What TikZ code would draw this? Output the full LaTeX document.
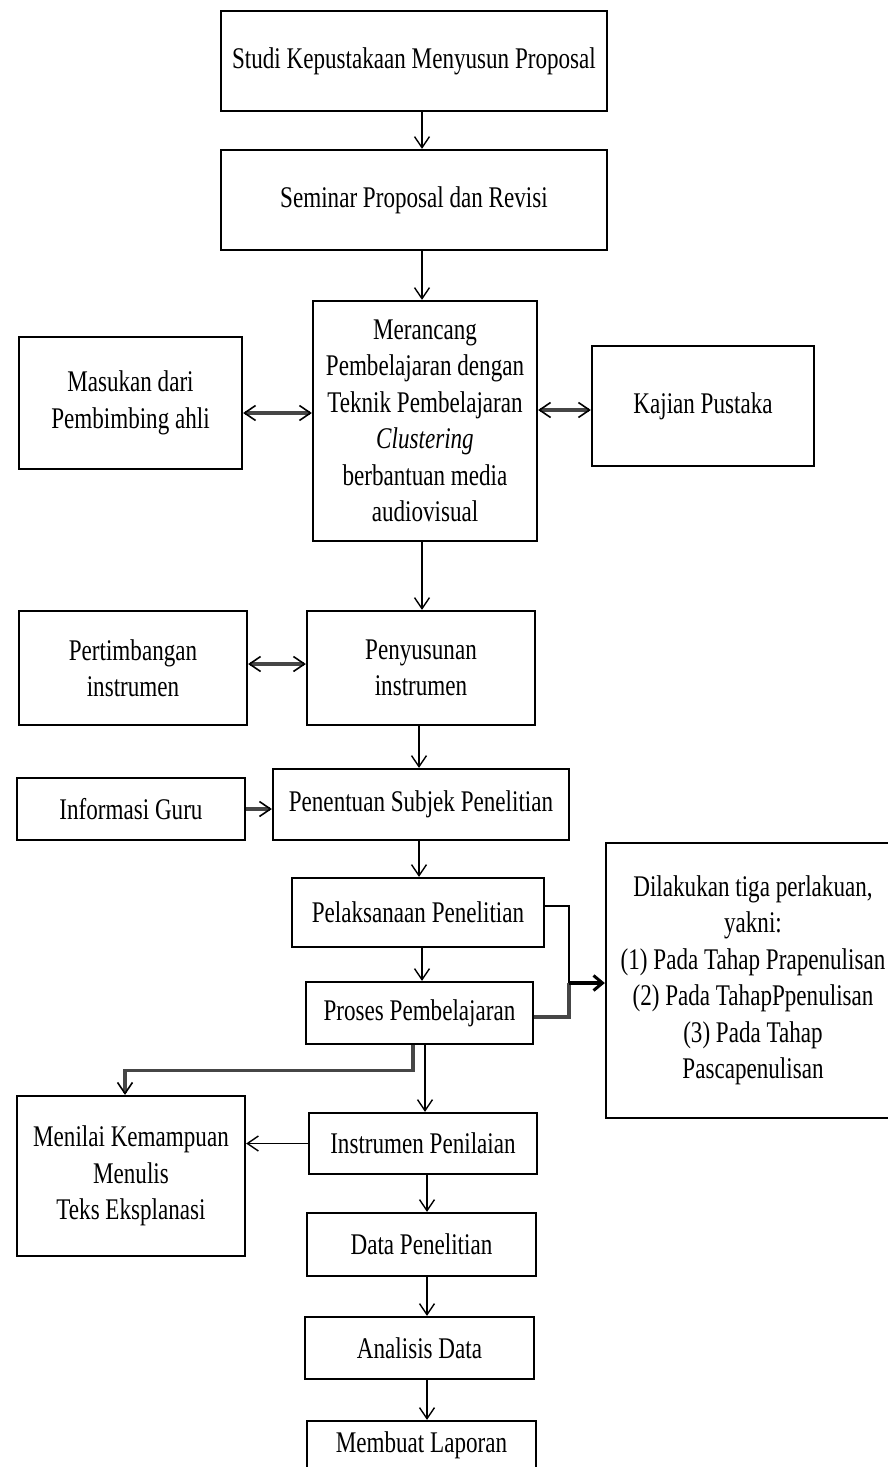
\documentclass[tikz,border=0pt]{standalone}
\usepackage{fontspec}
\setmainfont{Liberation Serif}[FakeStretch=0.77]
\usetikzlibrary{arrows.meta}
\newcommand\boxfont{\fontsize{30}{36.5}\selectfont}
\tikzset{
  box/.style={draw, line width=2.3pt, align=center, inner sep=0pt, font=\boxfont},
  arr/.style={line width=1.4pt, -{Straight Barb[length=11pt,width=15pt]}},
  dblarr/.style={draw=gray!55!black, line width=3.2pt,
    {Straight Barb[length=11pt,width=15pt,line width=1.6pt,color=black]}-{Straight Barb[length=11pt,width=15pt,line width=1.6pt,color=black]}},
  grayarr/.style={draw=gray!55!black, line width=3.2pt,
    -{Straight Barb[length=11pt,width=15pt,line width=1.6pt,color=black]}},
  grayline/.style={draw=gray!55!black, line width=3.2pt},
  thinline/.style={draw=black, line width=1.8pt},
  thickarr/.style={draw=black, line width=4pt, -{Straight Barb[length=9pt,width=15pt,line width=3pt]}},
}
\begin{document}
\begin{tikzpicture}[x=1pt,y=-1pt]
\fill[white] (0,0) rectangle (888,1467);
\useasboundingbox (0,0) rectangle (888,1467);

\node[box, minimum width=386pt, minimum height=100pt] (studi) at (414,61) {Studi Kepustakaan Menyusun Proposal};
\node[box, minimum width=386pt, minimum height=100pt] (seminar) at (414,200) {Seminar Proposal dan Revisi};
\node[box, minimum width=224pt, minimum height=240pt] (merancang) at (425,421) {Merancang\\Pembelajaran dengan\\Teknik Pembelajaran\\\textit{Clustering}\\berbantuan media\\audiovisual};
\node[box, minimum width=223pt, minimum height=132pt] (masukan) at (130.5,403) {Masukan dari\\Pembimbing ahli};
\node[box, minimum width=222pt, minimum height=120pt] (kajian) at (703,406) {Kajian Pustaka};
\node[box, minimum width=228pt, minimum height=114pt] (pertimbangan) at (133,668) {Pertimbangan\\instrumen};
\node[box, minimum width=228pt, minimum height=114pt] (penyusunan) at (421,668) {Penyusunan\\instrumen};
\node[box, minimum width=228pt, minimum height=62pt] (informasi) at (131,809) {Informasi Guru};
\node[box, minimum width=296pt, minimum height=71pt] (penentuan) at (421,804.5) {Penentuan Subjek Penelitian};
\node[box, minimum width=252pt, minimum height=69pt] (pelaksanaan) at (418,912.5) {Pelaksanaan Penelitian};
\node[box, minimum width=227pt, minimum height=62pt] (proses) at (419.5,1013) {Proses Pembelajaran};
\node[box, minimum width=294pt, minimum height=275pt] (dilakukan) at (753,980.5) {Dilakukan tiga perlakuan,\\yakni:\\(1) Pada Tahap Prapenulisan\\(2) Pada TahapPpenulisan\\(3) Pada Tahap\\Pascapenulisan};
\node[box, minimum width=228pt, minimum height=160pt] (menilai) at (131,1176) {Menilai Kemampuan\\Menulis\\Teks Eksplanasi};
\node[box, minimum width=228pt, minimum height=61pt] (instrumen) at (423,1143.5) {Instrumen Penilaian};
\node[box, minimum width=229pt, minimum height=63pt] (data) at (421.5,1244.5) {Data Penelitian};
\node[box, minimum width=229pt, minimum height=62pt] (analisis) at (419.5,1348) {Analisis Data};
\node[box, minimum width=229pt, minimum height=48pt] (membuat) at (421.5,1445) {Membuat Laporan};

\coordinate (ax) at (422,0);
\coordinate (bx) at (419,0);
\coordinate (cx) at (425,0);
\coordinate (dx) at (427,0);
\draw[arr] (studi.south -| ax) -- (seminar.north -| ax);
\draw[arr] (seminar.south -| ax) -- (merancang.north -| ax);
\draw[arr] (merancang.south -| ax) -- (penyusunan.north -| ax);
\draw[arr] (penyusunan.south -| bx) -- (penentuan.north -| bx);
\draw[arr] (penentuan.south -| bx) -- (pelaksanaan.north -| bx);
\draw[arr] (pelaksanaan.south -| ax) -- (proses.north -| ax);
\draw[arr] (proses.south -| cx) -- (instrumen.north -| cx);
\draw[arr] (instrumen.south -| dx) -- (data.north -| dx);
\draw[arr] (data.south -| dx) -- (analisis.north -| dx);
\draw[arr] (analisis.south -| dx) -- (membuat.north -| dx);

\coordinate (y1) at (0,413);
\coordinate (y2) at (0,410);
\coordinate (y3) at (0,664);
\draw[dblarr] (masukan.east |- y1) -- (merancang.west |- y1);
\draw[dblarr] (merancang.east |- y2) -- (kajian.west |- y2);
\draw[dblarr] (pertimbangan.east |- y3) -- (penyusunan.west |- y3);
\draw[grayarr] (informasi.east) -- (penentuan.west |- informasi.east);

\coordinate (j1) at (569,983);
\draw[thinline] ([yshift=6.5pt]pelaksanaan.east) -| (j1);
\draw[grayline] ([yshift=-4pt]proses.east) -| (j1);
\draw[thickarr] (j1) -- (dilakukan.west |- j1);

\draw[grayarr] ([xshift=-6.5pt]proses.south) -- ++(0,25) -| ([xshift=-6pt]menilai.north);
\draw[arr] (instrumen.west) -- (menilai.east |- instrumen.west);
\end{tikzpicture}
\end{document}
